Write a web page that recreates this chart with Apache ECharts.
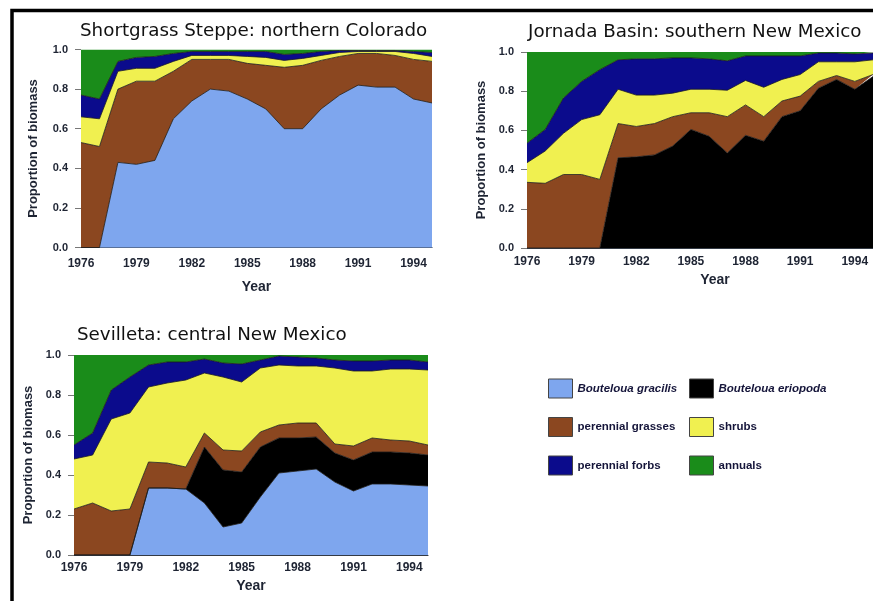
<!DOCTYPE html>
<html><head><meta charset="utf-8">
<script src="https://cdn.jsdelivr.net/npm/echarts@6/dist/echarts.min.js"></script>
<style>html,body{margin:0;padding:0;background:#fff}#c{width:873px;height:601px}</style>
</head><body><div id="c"></div>
<script>
const years = ['1976','1977','1978','1979','1980','1981','1982','1983','1984','1985','1986','1987','1988','1989','1990','1991','1992','1993','1994','1995'];
const yTicks = [0, 0.2, 0.4, 0.6, 0.8, 1.0];

// Shortgrass Steppe: northern Colorado
const sgGracilis = [0, 0, 0.43, 0.42, 0.44, 0.65, 0.74, 0.80, 0.79, 0.75, 0.70, 0.60, 0.60, 0.70, 0.77, 0.82, 0.81, 0.81, 0.75, 0.73];
const sgGrasses  = [0.53, 0.51, 0.37, 0.42, 0.40, 0.24, 0.21, 0.15, 0.16, 0.18, 0.22, 0.31, 0.32, 0.245, 0.195, 0.16, 0.17, 0.16, 0.20, 0.21];
const sgShrubs   = [0.13, 0.14, 0.09, 0.065, 0.065, 0.05, 0.02, 0.02, 0.02, 0.035, 0.04, 0.035, 0.035, 0.025, 0.02, 0.01, 0.01, 0.02, 0.03, 0.025];
const sgForbs    = [0.11, 0.10, 0.05, 0.055, 0.06, 0.04, 0.02, 0.02, 0.02, 0.025, 0.03, 0.03, 0.025, 0.02, 0.01, 0.005, 0.005, 0.005, 0.01, 0.02];
const sgAnnuals  = [0.23, 0.25, 0.06, 0.04, 0.035, 0.02, 0.01, 0.01, 0.01, 0.01, 0.01, 0.025, 0.02, 0.01, 0.005, 0.005, 0.005, 0.005, 0.01, 0.015];

// Jornada Basin: southern New Mexico
const jbEriopoda = [0, 0, 0, 0, 0, 0.46, 0.465, 0.475, 0.52, 0.605, 0.57, 0.485, 0.575, 0.545, 0.67, 0.70, 0.815, 0.86, 0.81, 0.875];
const jbGrasses  = [0.335, 0.33, 0.375, 0.375, 0.35, 0.175, 0.155, 0.16, 0.15, 0.085, 0.12, 0.185, 0.155, 0.125, 0.08, 0.075, 0.035, 0.02, 0.04, 0.01];
const jbShrubs   = [0.10, 0.165, 0.21, 0.28, 0.33, 0.175, 0.16, 0.145, 0.12, 0.12, 0.12, 0.135, 0.125, 0.15, 0.11, 0.11, 0.10, 0.07, 0.10, 0.075];
const jbForbs    = [0.10, 0.11, 0.18, 0.195, 0.23, 0.15, 0.185, 0.185, 0.18, 0.16, 0.155, 0.15, 0.125, 0.16, 0.12, 0.095, 0.045, 0.045, 0.04, 0.035];
const jbAnnuals  = [0.465, 0.395, 0.235, 0.15, 0.09, 0.04, 0.035, 0.035, 0.03, 0.03, 0.035, 0.045, 0.02, 0.02, 0.02, 0.02, 0.005, 0.005, 0.01, 0.005];

// Sevilleta: central New Mexico
const svGracilis = [0, 0, 0, 0, 0.335, 0.335, 0.33, 0.26, 0.14, 0.16, 0.29, 0.41, 0.42, 0.43, 0.365, 0.32, 0.355, 0.355, 0.35, 0.345];
const svEriopoda = [0, 0, 0, 0, 0, 0, 0, 0.28, 0.285, 0.255, 0.25, 0.175, 0.165, 0.16, 0.145, 0.155, 0.16, 0.16, 0.16, 0.155];
const svGrasses  = [0.23, 0.26, 0.22, 0.23, 0.13, 0.125, 0.11, 0.07, 0.10, 0.105, 0.075, 0.065, 0.075, 0.07, 0.045, 0.07, 0.07, 0.06, 0.06, 0.05];
const svShrubs   = [0.25, 0.24, 0.46, 0.48, 0.375, 0.40, 0.435, 0.30, 0.365, 0.345, 0.32, 0.30, 0.285, 0.285, 0.38, 0.375, 0.335, 0.355, 0.36, 0.375];
const svForbs    = [0.07, 0.11, 0.145, 0.18, 0.11, 0.105, 0.09, 0.07, 0.07, 0.09, 0.04, 0.045, 0.045, 0.04, 0.04, 0.05, 0.05, 0.045, 0.045, 0.04];
const svAnnuals  = [0.45, 0.39, 0.175, 0.11, 0.05, 0.035, 0.035, 0.02, 0.04, 0.045, 0.025, 0.005, 0.01, 0.015, 0.025, 0.03, 0.03, 0.025, 0.025, 0.035];

const COLORS = {
  'Bouteloua gracilis': '#7ea6ee',
  'Bouteloua eriopoda': '#000000',
  'perennial grasses': '#8b4720',
  'shrubs': '#f0f050',
  'perennial forbs': '#0b0b8c',
  'annuals': '#1a8c1a'
};
const labelColor = '#1e2433';

function area(name, data, idx, last) {
  const c = COLORS[name];
  return {
    name, type: 'line', xAxisIndex: idx, yAxisIndex: idx, stack: 'p' + idx, data,
    symbol: 'none', showSymbol: false, color: c,
    lineStyle: { color: '#1b1b1b', width: last ? 0 : 0.8 },
    areaStyle: { color: c, opacity: 1 },
    emphasis: { disabled: true }, animation: false
  };
}

function xAx(idx, gap, pad, margin) {
  return {
    type: 'category', gridIndex: idx, data: years, boundaryGap: false,
    axisLine: { lineStyle: { color: '#333a44', width: 1.2 } },
    axisTick: { show: false },
    axisLabel: { interval: 2, color: labelColor, fontFamily: 'Liberation Sans', fontWeight: 'bold', fontSize: 12, margin: margin },
    name: 'Year', nameLocation: 'middle', nameGap: gap,
    nameTextStyle: { color: labelColor, fontFamily: 'Liberation Sans', fontWeight: 'bold', fontSize: 14, padding: pad }
  };
}
function yAx(idx, gap) {
  return {
    type: 'value', gridIndex: idx, min: yTicks[0], max: yTicks[yTicks.length - 1], interval: 0.2,
    splitLine: { show: false },
    axisLine: { show: false },
    axisTick: { show: true, length: 6, lineStyle: { color: '#777' } },
    axisLabel: { color: labelColor, fontFamily: 'Liberation Sans', fontWeight: 'bold', fontSize: 11, margin: 13, formatter: v => v.toFixed(1) },
    name: 'Proportion of biomass', nameLocation: 'middle', nameGap: gap,
    nameTextStyle: { color: labelColor, fontFamily: 'Liberation Sans', fontWeight: 'bold', fontSize: 13 }
  };
}

const titleStyle = { fontFamily: 'DejaVu Sans', fontSize: 18.3, fontWeight: 'normal', color: '#111' };
const legendBase = {
  orient: 'vertical', top: 373.5, itemWidth: 24, itemHeight: 19, itemGap: 18.5, icon: 'rect',
  itemStyle: { borderColor: '#444', borderWidth: 1 },
  textStyle: { color: '#15153a', fontFamily: 'Liberation Sans', fontWeight: 'bold', fontSize: 11.5 },
  selectedMode: false
};
function li(name, italic) {
  const o = { name, itemStyle: { color: COLORS[name] } };
  if (italic) o.textStyle = { fontStyle: 'italic' };
  return o;
}

const option = {
  backgroundColor: '#fff',
  animation: false,
  title: [
    { text: 'Shortgrass Steppe: northern Colorado', left: 80, top: 22, padding: 0, textStyle: titleStyle },
    { text: 'Jornada Basin: southern New Mexico', left: 528, top: 23, padding: 0, textStyle: titleStyle },
    { text: 'Sevilleta: central New Mexico', left: 77, top: 326, padding: 0, textStyle: titleStyle }
  ],
  grid: [
    { left: 81, top: 49.5, width: 351, height: 198 },
    { left: 527, top: 52, width: 351, height: 196 },
    { left: 74, top: 355, width: 354, height: 200 }
  ],
  xAxis: [xAx(0, 33, 0, 10), xAx(1, 25, [0, 0, 0, 30], 8), xAx(2, 24, 0, 7)],
  yAxis: [yAx(0, 41), yAx(1, 39), yAx(2, 39)],
  legend: [
    Object.assign({}, legendBase, { left: 543, data: [li('Bouteloua gracilis', true), li('perennial grasses'), li('perennial forbs')] }),
    Object.assign({}, legendBase, { left: 684, data: [li('Bouteloua eriopoda', true), li('shrubs'), li('annuals')] })
  ],
  graphic: [
    { type: 'rect', shape: { x: 12, y: 10.5, width: 1000, height: 1000 }, style: { fill: 'none', stroke: '#000', lineWidth: 3.5 }, z: 100 }
  ],
  series: [
    area('Bouteloua gracilis', sgGracilis, 0),
    area('perennial grasses', sgGrasses, 0),
    area('shrubs', sgShrubs, 0),
    area('perennial forbs', sgForbs, 0),
    area('annuals', sgAnnuals, 0, true),

    area('Bouteloua eriopoda', jbEriopoda, 1),
    area('perennial grasses', jbGrasses, 1),
    area('shrubs', jbShrubs, 1),
    area('perennial forbs', jbForbs, 1),
    area('annuals', jbAnnuals, 1, true),

    area('Bouteloua gracilis', svGracilis, 2),
    area('Bouteloua eriopoda', svEriopoda, 2),
    area('perennial grasses', svGrasses, 2),
    area('shrubs', svShrubs, 2),
    area('perennial forbs', svForbs, 2),
    area('annuals', svAnnuals, 2, true)
  ]
};
const chart = echarts.init(document.getElementById('c'), null, { renderer: 'canvas' });
chart.setOption(option);
</script>
</body></html>
